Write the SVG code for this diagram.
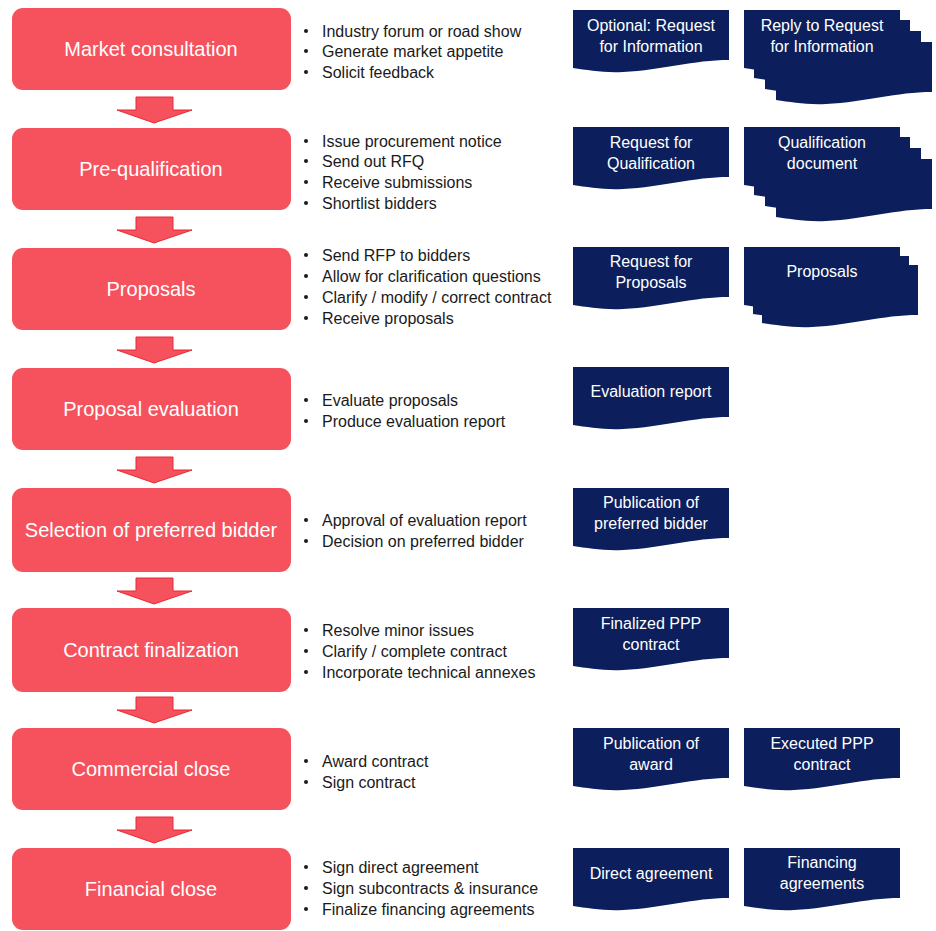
<svg xmlns="http://www.w3.org/2000/svg" width="936" height="931" viewBox="0 0 936 931">
<style>
.box{fill:#f5525e}
.bl{font-family:"Liberation Sans",Arial,sans-serif;font-size:20px;fill:#ffffff;text-anchor:middle}
.bt{font-family:"Liberation Sans",Arial,sans-serif;font-size:16px;fill:#1a1a1a}
.dot{fill:#1a1a1a}
.doc{fill:#0c1f5c}
.dt{font-family:"Liberation Sans",Arial,sans-serif;font-size:16px;fill:#ffffff;text-anchor:middle}
.arr{fill:#f5525e;stroke:#ea2632;stroke-width:1}
</style>
<defs>
<path id="d" d="M0,0 H156 V50 C120,50 90,60 50,62 C30,63 15,60 0,58 Z"/>
</defs>
<rect width="936" height="931" fill="#ffffff"/>

<g id="connectors">
<path class="arr" d="M136,97 H173 V110 H192 L154,123 L117,110 H136 Z"/>
<path class="arr" d="M136,217 H173 V230 H192 L154,243 L117,230 H136 Z"/>
<path class="arr" d="M136,337 H173 V350 H192 L154,363 L117,350 H136 Z"/>
<path class="arr" d="M136,457 H173 V470 H192 L154,483 L117,470 H136 Z"/>
<path class="arr" d="M136,578 H173 V591 H192 L154,604 L117,591 H136 Z"/>
<path class="arr" d="M136,697 H173 V710 H192 L154,723 L117,710 H136 Z"/>
<path class="arr" d="M136,817 H173 V830 H192 L154,843 L117,830 H136 Z"/>
</g>

<g id="stage1">
<rect class="box" x="12" y="8" width="279" height="82" rx="11"/>
<text class="bl" x="151" y="56">Market consultation</text>
<circle class="dot" cx="306" cy="31" r="2"/><text class="bt" x="322" y="37">Industry forum or road show</text>
<circle class="dot" cx="306" cy="51" r="2"/><text class="bt" x="322" y="57">Generate market appetite</text>
<circle class="dot" cx="306" cy="72" r="2"/><text class="bt" x="322" y="78">Solicit feedback</text>
</g>
<g id="stage2">
<rect class="box" x="12" y="128" width="279" height="82" rx="11"/>
<text class="bl" x="151" y="176">Pre-qualification</text>
<circle class="dot" cx="306" cy="141" r="2"/><text class="bt" x="322" y="147">Issue procurement notice</text>
<circle class="dot" cx="306" cy="161" r="2"/><text class="bt" x="322" y="167">Send out RFQ</text>
<circle class="dot" cx="306" cy="182" r="2"/><text class="bt" x="322" y="188">Receive submissions</text>
<circle class="dot" cx="306" cy="203" r="2"/><text class="bt" x="322" y="209">Shortlist bidders</text>
</g>
<g id="stage3">
<rect class="box" x="12" y="248" width="279" height="82" rx="11"/>
<text class="bl" x="151" y="296">Proposals</text>
<circle class="dot" cx="306" cy="255" r="2"/><text class="bt" x="322" y="261">Send RFP to bidders</text>
<circle class="dot" cx="306" cy="276" r="2"/><text class="bt" x="322" y="282">Allow for clarification questions</text>
<circle class="dot" cx="306" cy="297" r="2"/><text class="bt" x="322" y="303">Clarify / modify / correct contract</text>
<circle class="dot" cx="306" cy="318" r="2"/><text class="bt" x="322" y="324">Receive proposals</text>
</g>
<g id="stage4">
<rect class="box" x="12" y="368" width="279" height="82" rx="11"/>
<text class="bl" x="151" y="416">Proposal evaluation</text>
<circle class="dot" cx="306" cy="400" r="2"/><text class="bt" x="322" y="406">Evaluate proposals</text>
<circle class="dot" cx="306" cy="421" r="2"/><text class="bt" x="322" y="427">Produce evaluation report</text>
</g>
<g id="stage5">
<rect class="box" x="12" y="488" width="279" height="84" rx="11"/>
<text class="bl" x="151" y="537">Selection of preferred bidder</text>
<circle class="dot" cx="306" cy="520" r="2"/><text class="bt" x="322" y="526">Approval of evaluation report</text>
<circle class="dot" cx="306" cy="541" r="2"/><text class="bt" x="322" y="547">Decision on preferred bidder</text>
</g>
<g id="stage6">
<rect class="box" x="12" y="608" width="279" height="84" rx="11"/>
<text class="bl" x="151" y="657">Contract finalization</text>
<circle class="dot" cx="306" cy="630" r="2"/><text class="bt" x="322" y="636">Resolve minor issues</text>
<circle class="dot" cx="306" cy="651" r="2"/><text class="bt" x="322" y="657">Clarify / complete contract</text>
<circle class="dot" cx="306" cy="672" r="2"/><text class="bt" x="322" y="678">Incorporate technical annexes</text>
</g>
<g id="stage7">
<rect class="box" x="12" y="728" width="279" height="82" rx="11"/>
<text class="bl" x="151" y="776">Commercial close</text>
<circle class="dot" cx="306" cy="761" r="2"/><text class="bt" x="322" y="767">Award contract</text>
<circle class="dot" cx="306" cy="782" r="2"/><text class="bt" x="322" y="788">Sign contract</text>
</g>
<g id="stage8">
<rect class="box" x="12" y="848" width="279" height="82" rx="11"/>
<text class="bl" x="151" y="896">Financial close</text>
<circle class="dot" cx="306" cy="867" r="2"/><text class="bt" x="322" y="873">Sign direct agreement</text>
<circle class="dot" cx="306" cy="888" r="2"/><text class="bt" x="322" y="894">Sign subcontracts &amp; insurance</text>
<circle class="dot" cx="306" cy="909" r="2"/><text class="bt" x="322" y="915">Finalize financing agreements</text>
</g>

<g id="doc-rfi">
<use href="#d" class="doc" x="573" y="10"/>
<text class="dt" x="651" y="31">Optional: Request</text>
<text class="dt" x="651" y="52">for Information</text>
</g>
<g id="doc-reply-rfi">
<use href="#d" class="doc" x="776" y="42"/>
<use href="#d" class="doc" x="765" y="31"/>
<use href="#d" class="doc" x="754" y="20"/>
<use href="#d" class="doc" x="744" y="10"/>
<text class="dt" x="822" y="31">Reply to Request</text>
<text class="dt" x="822" y="52">for Information</text>
</g>
<g id="doc-rfq">
<use href="#d" class="doc" x="573" y="127"/>
<text class="dt" x="651" y="148">Request for</text>
<text class="dt" x="651" y="169">Qualification</text>
</g>
<g id="doc-qual">
<use href="#d" class="doc" x="776" y="159"/>
<use href="#d" class="doc" x="765" y="148"/>
<use href="#d" class="doc" x="754" y="137"/>
<use href="#d" class="doc" x="744" y="127"/>
<text class="dt" x="822" y="148">Qualification</text>
<text class="dt" x="822" y="169">document</text>
</g>
<g id="doc-rfp">
<use href="#d" class="doc" x="573" y="247"/>
<text class="dt" x="651" y="267">Request for</text>
<text class="dt" x="651" y="288">Proposals</text>
</g>
<g id="doc-proposals">
<use href="#d" class="doc" x="762" y="265"/>
<use href="#d" class="doc" x="753" y="256"/>
<use href="#d" class="doc" x="744" y="247"/>
<text class="dt" x="822" y="277">Proposals</text>
</g>
<g id="doc-eval">
<use href="#d" class="doc" x="573" y="367"/>
<text class="dt" x="651" y="397">Evaluation report</text>
</g>
<g id="doc-pub-pref">
<use href="#d" class="doc" x="573" y="488"/>
<text class="dt" x="651" y="508">Publication of</text>
<text class="dt" x="651" y="529">preferred bidder</text>
</g>
<g id="doc-final">
<use href="#d" class="doc" x="573" y="608"/>
<text class="dt" x="651" y="629">Finalized PPP</text>
<text class="dt" x="651" y="650">contract</text>
</g>
<g id="doc-pub-award">
<use href="#d" class="doc" x="573" y="728"/>
<text class="dt" x="651" y="749">Publication of</text>
<text class="dt" x="651" y="770">award</text>
</g>
<g id="doc-exec">
<use href="#d" class="doc" x="744" y="728"/>
<text class="dt" x="822" y="749">Executed PPP</text>
<text class="dt" x="822" y="770">contract</text>
</g>
<g id="doc-direct">
<use href="#d" class="doc" x="573" y="848"/>
<text class="dt" x="651" y="879">Direct agreement</text>
</g>
<g id="doc-fin">
<use href="#d" class="doc" x="744" y="848"/>
<text class="dt" x="822" y="868">Financing</text>
<text class="dt" x="822" y="889">agreements</text>
</g>
</svg>
